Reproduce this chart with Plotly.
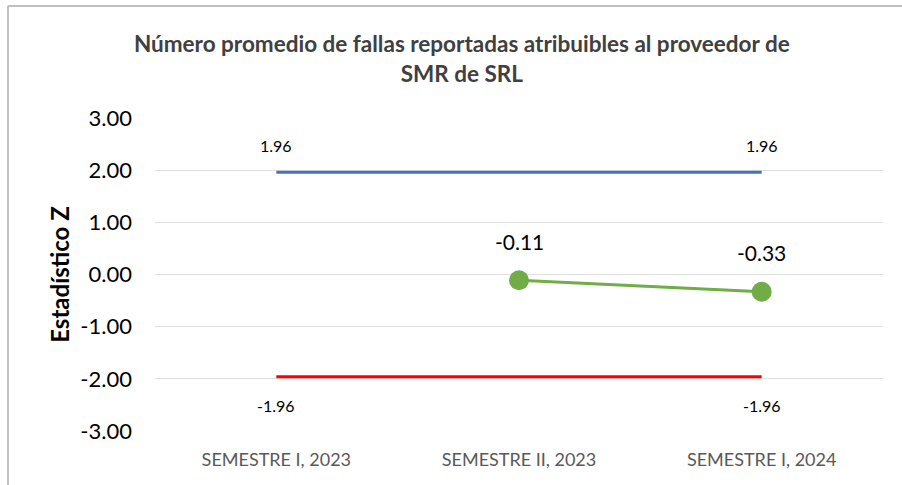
import plotly.graph_objects as go

categories = ["SEMESTRE I, 2023", "SEMESTRE II, 2023", "SEMESTRE I, 2024"]
upper_limit = [1.96, 1.96, 1.96]
lower_limit = [-1.96, -1.96, -1.96]
z_values = [None, -0.11, -0.33]
y_ticks = [-3, -2, -1, 0, 1, 2, 3]
y_tick_labels = ["-3.00", "-2.00", "-1.00", "0.00", "1.00", "2.00", "3.00"]

FONT = "Lato, Carlito, Calibri, sans-serif"

def fmt(v):
    return f"{v:.2f}"

fig = go.Figure()
fig.add_trace(go.Scatter(x=categories, y=upper_limit, mode="lines",
                         line=dict(color="#4472C4", width=3), hoverinfo="skip"))
fig.add_trace(go.Scatter(x=categories, y=lower_limit, mode="lines",
                         line=dict(color="#FF0000", width=3), hoverinfo="skip"))
fig.add_trace(go.Scatter(x=categories, y=z_values, mode="lines+markers",
                         line=dict(color="#70AD47", width=3),
                         marker=dict(color="#70AD47", size=20)))

annotations = []
for i in (0, 2):
    annotations.append(dict(x=categories[i], y=upper_limit[i], text=fmt(upper_limit[i]),
                            showarrow=False, yshift=27, font=dict(size=16, color="#000000", family=FONT)))
    annotations.append(dict(x=categories[i], y=lower_limit[i], text=fmt(lower_limit[i]),
                            showarrow=False, yshift=-29, font=dict(size=16, color="#000000", family=FONT)))
for c, v in zip(categories, z_values):
    if v is not None:
        annotations.append(dict(x=c, y=v, text=fmt(v), showarrow=False, yshift=39,
                                font=dict(size=21, color="#000000", family=FONT)))

fig.update_layout(
    width=902, height=485,
    margin=dict(l=155, r=19, t=118, b=54),
    paper_bgcolor="white", plot_bgcolor="white",
    showlegend=False,
    font=dict(family=FONT),
    title=dict(text="<b>Número promedio de fallas reportadas atribuibles al proveedor de<br>SMR de SRL</b>",
               x=0.512, xanchor="center", y=0.892, yanchor="middle",
               font=dict(size=22.5, color="#404040", family=FONT)),
    xaxis=dict(range=[-0.5, 2.5], showgrid=False, zeroline=False, showline=False,
               ticks="", ticklabelstandoff=16,
               tickfont=dict(size=18, color="#595959", family=FONT)),
    yaxis=dict(range=[-3, 3], tickvals=y_ticks, ticktext=y_tick_labels,
               showgrid=True, gridcolor="#E0E0E0", gridwidth=1, zeroline=False,
               showline=False, ticks="", ticklabelstandoff=22,
               tickfont=dict(size=22, color="#000000", family=FONT),
               title=dict(text="<b>Estadístico Z</b>", standoff=3,
                          font=dict(size=24, color="#000000", family=FONT))),
    annotations=annotations,
    shapes=[
        dict(type="line", xref="paper", yref="paper", x0=(8 - 155) / 728, x1=1.1,
             y0=(431 - 6) / 313, y1=(431 - 6) / 313, line=dict(color="#C0C0C0", width=2)),
        dict(type="line", xref="paper", yref="paper", x0=(8 - 155) / 728, x1=(8 - 155) / 728,
             y0=(431 - 6) / 313, y1=-0.3, line=dict(color="#C0C0C0", width=2)),
    ],
)

fig.write_html("out.html", config={"displayModeBar": False},
               post_script="document.body.style.margin='0';")
